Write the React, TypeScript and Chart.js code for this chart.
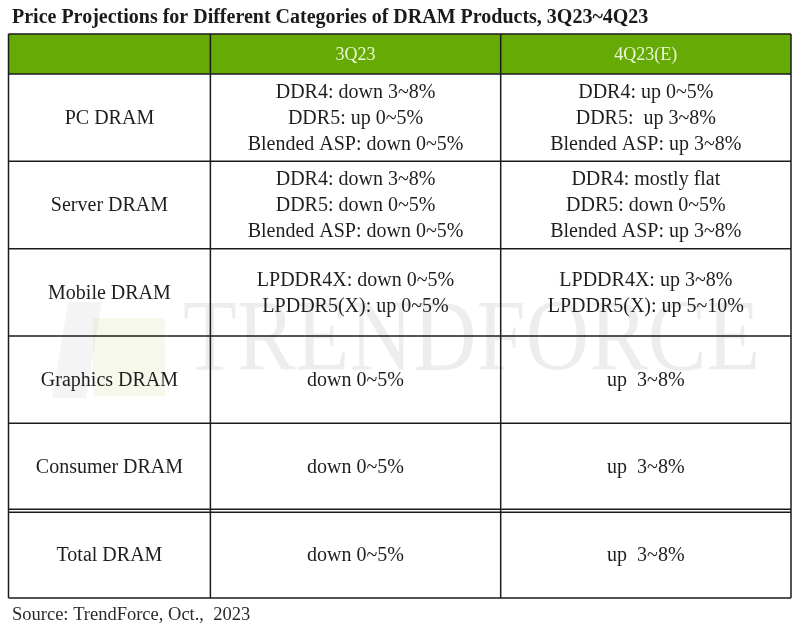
import React, { useEffect, useRef } from "react";
import { Chart, registerables } from "chart.js";

Chart.register(...registerables);

const title = "Price Projections for Different Categories of DRAM Products, 3Q23~4Q23";
const columns = ["", "3Q23", "4Q23(E)"];
const categories = ["PC DRAM", "Server DRAM", "Mobile DRAM", "Graphics DRAM", "Consumer DRAM", "Total DRAM"];
const q3Values = [
  ["DDR4: down 3~8%", "DDR5: up 0~5%", "Blended ASP: down 0~5%"],
  ["DDR4: down 3~8%", "DDR5: down 0~5%", "Blended ASP: down 0~5%"],
  ["LPDDR4X: down 0~5%", "LPDDR5(X): up 0~5%"],
  ["down 0~5%"],
  ["down 0~5%"],
  ["down 0~5%"],
];
const q4Values = [
  ["DDR4: up 0~5%", "DDR5:  up 3~8%", "Blended ASP: up 3~8%"],
  ["DDR4: mostly flat", "DDR5: down 0~5%", "Blended ASP: up 3~8%"],
  ["LPDDR4X: up 3~8%", "LPDDR5(X): up 5~10%"],
  ["up  3~8%"],
  ["up  3~8%"],
  ["up  3~8%"],
];
const source = "Source: TrendForce, Oct.,  2023";
const watermark = "TRENDFORCE";

const SERIF = '"Liberation Serif", "Times New Roman", serif';

const tablePlugin = {
  id: "tablePlugin",
  afterDraw(chart: any) {
    const ctx: CanvasRenderingContext2D = chart.ctx;
    const xs = chart.scales.x;
    const ys = chart.scales.y;
    const colEdges = [xs.getPixelForValue(0), xs.getPixelForValue(1), xs.getPixelForValue(2), xs.getPixelForValue(3)];
    const rowEdges: number[] = [];
    for (let i = 0; i <= categories.length + 1; i++) rowEdges.push(ys.getPixelForValue(i));

    ctx.save();
    ctx.fillStyle = "#ffffff";
    ctx.fillRect(0, 0, chart.width, chart.height);

    // title
    ctx.fillStyle = "#1a1a1a";
    ctx.font = `bold 20px ${SERIF}`;
    ctx.textAlign = "left";
    ctx.textBaseline = "middle";
    ctx.fillText(title, 12, 18);

    // watermark
    ctx.fillStyle = "rgba(0,0,0,0.045)";
    ctx.beginPath();
    ctx.moveTo(68, 302);
    ctx.lineTo(102, 302);
    ctx.lineTo(86, 398);
    ctx.lineTo(52, 398);
    ctx.closePath();
    ctx.fill();
    ctx.fillStyle = "rgba(190,200,110,0.13)";
    ctx.fillRect(93, 318, 72, 78);
    ctx.fillStyle = "rgba(0,0,0,0.07)";
    ctx.font = `101px ${SERIF}`;
    ctx.textBaseline = "alphabetic";
    ctx.textAlign = "left";
    ctx.save();
    ctx.translate(183, 370);
    ctx.scale(0.872, 1);
    ctx.fillText(watermark, 0, 0);
    ctx.restore();

    // header
    const left = colEdges[0];
    const right = colEdges[3];
    ctx.fillStyle = "#66aa05";
    ctx.fillRect(left, rowEdges[0], right - left, rowEdges[1] - rowEdges[0]);

    ctx.textAlign = "center";
    ctx.textBaseline = "middle";
    ctx.fillStyle = "#eaf6d6";
    ctx.font = `18px ${SERIF}`;
    for (let c = 1; c < columns.length; c++) {
      ctx.fillText(columns[c], (colEdges[c] + colEdges[c + 1]) / 2, (rowEdges[0] + rowEdges[1]) / 2 + 1);
    }

    // body text
    ctx.fillStyle = "#1e1e1e";
    ctx.font = `20px ${SERIF}`;
    const lh = 26;
    for (let r = 0; r < categories.length; r++) {
      const cy = (rowEdges[r + 1] + rowEdges[r + 2]) / 2 + 1;
      ctx.fillText(categories[r], (colEdges[0] + colEdges[1]) / 2, cy);
      const cols = [q3Values[r], q4Values[r]];
      cols.forEach((lines, ci) => {
        const cx = (colEdges[ci + 1] + colEdges[ci + 2]) / 2;
        const start = cy - ((lines.length - 1) * lh) / 2;
        lines.forEach((t, li) => ctx.fillText(t, cx, start + li * lh));
      });
    }

    // grid lines
    ctx.strokeStyle = "#1c1c1c";
    ctx.lineWidth = 1.5;
    ctx.beginPath();
    for (const x of colEdges) {
      ctx.moveTo(x, rowEdges[0]);
      ctx.lineTo(x, rowEdges[rowEdges.length - 1]);
    }
    rowEdges.forEach((y, i) => {
      if (i === rowEdges.length - 2) {
        ctx.moveTo(left, y - 1.5);
        ctx.lineTo(right, y - 1.5);
        ctx.moveTo(left, y + 1.5);
        ctx.lineTo(right, y + 1.5);
      } else {
        ctx.moveTo(left, y);
        ctx.lineTo(right, y);
      }
    });
    ctx.stroke();

    // source
    ctx.fillStyle = "#2a2a2a";
    ctx.font = `18.5px ${SERIF}`;
    ctx.textAlign = "left";
    ctx.textBaseline = "middle";
    ctx.fillText(source, 12, 615);
    ctx.restore();
  },
};

export default function App() {
  const ref = useRef<HTMLCanvasElement | null>(null);
  useEffect(() => {
    document.body.style.margin = "0";
    const canvas = ref.current!;
    const chart = new Chart(canvas, {
      type: "scatter",
      data: { datasets: [{ data: [], pointRadius: 0 }] },
      options: {
        animation: false,
        responsive: false,
        layout: { padding: { left: 8.5, right: 5, top: 34, bottom: 39 } },
        plugins: { legend: { display: false }, tooltip: { enabled: false } },
        scales: {
          x: { type: "linear", display: false, min: 0, max: 3 },
          y: { type: "linear", display: false, min: 0, max: 7, reverse: true },
        },
      },
      plugins: [
        {
          id: "nonuniform",
          afterLayout(chart: any) {
            const xs = chart.scales.x;
            const ys = chart.scales.y;
            const x0 = xs.left, x1 = xs.right;
            const y0 = ys.top, y1 = ys.bottom;
            const colW = [0.258, 0.371, 0.371];
            const headerFrac = 40 / 564;
            xs.getPixelForValue = (v: number) => {
              let acc = x0;
              for (let i = 0; i < 3; i++) {
                const w = colW[i] * (x1 - x0);
                if (v <= i + 1) return acc + (v - i) * w;
                acc += w;
              }
              return x1;
            };
            ys.getPixelForValue = (v: number) => {
              const hh = headerFrac * (y1 - y0);
              if (v <= 1) return y0 + v * hh;
              const rh = (y1 - y0 - hh) / categories.length;
              return y0 + hh + (v - 1) * rh;
            };
          },
        },
        tablePlugin,
      ],
    });
    return () => chart.destroy();
  }, []);
  return (
    <div style={{ width: 796, height: 637, overflow: "hidden" }}>
      <canvas ref={ref} width={796} height={637} style={{ display: "block" }} />
    </div>
  );
}
